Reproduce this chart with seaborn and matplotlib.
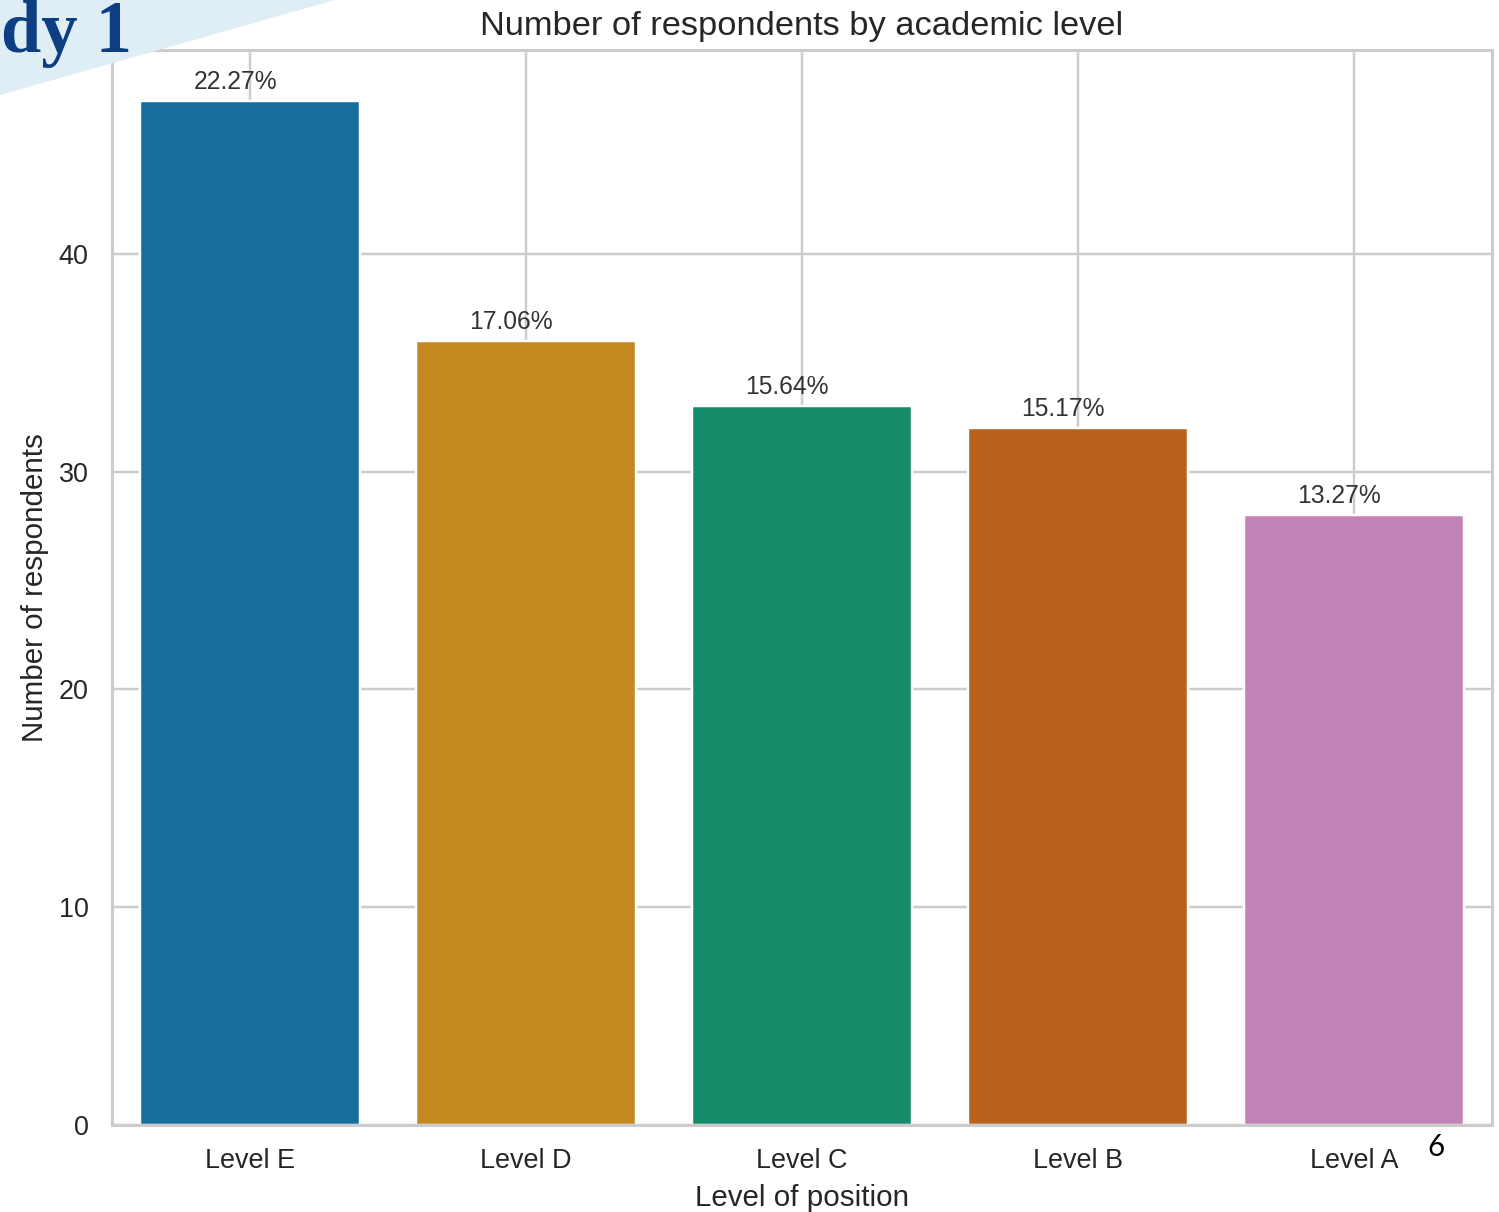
import matplotlib
matplotlib.use("Agg")
import matplotlib.pyplot as plt
from matplotlib.patches import Polygon
import seaborn as sns
import pandas as pd

# Respondent counts per academic level
levels = ["Level E", "Level D", "Level C", "Level B", "Level A"]
counts = [47, 36, 33, 32, 28]
# Share of all respondents, as printed above each bar
shares = ["22.27%", "17.06%", "15.64%", "15.17%", "13.27%"]

sns.set_theme(style="whitegrid", palette="colorblind")
plt.rcParams["font.family"] = ["Liberation Sans", "DejaVu Sans"]

DPI = 177
W, H = 1499, 1212
fig = plt.figure(figsize=(W / DPI, H / DPI), dpi=DPI)

# slide banner in the upper-left corner, behind the chart
banner = Polygon([[0, 1], [335 / W, 1], [0, 1 - 95 / H]], closed=True,
                 transform=fig.transFigure, facecolor="#dfeef4",
                 edgecolor="none", zorder=0)
fig.patches.append(banner)

ax = fig.add_axes([112 / W, 1 - 1125 / H, (1492 - 112) / W, (1125 - 50) / H])

df = pd.DataFrame({"level": levels, "count": counts})
sns.barplot(data=df, x="level", y="count", hue="level",
            palette="colorblind", legend=False, ax=ax)
ax.set_axisbelow(True)
ax.grid(True, axis="both")

for patch, label in zip(ax.patches, shares):
    ax.annotate(label,
                (patch.get_x() + patch.get_width() / 2, patch.get_height()),
                xytext=(-6, 5), textcoords="offset points",
                ha="center", va="baseline", fontsize=10, color=".2")

ax.set_title("Number of respondents by academic level", fontsize=14)
ax.set_xlabel("Level of position")
ax.set_ylabel("Number of respondents")
ax.set_yticks([0, 10, 20, 30, 40])

fig.text(1 / W, 1 - 52 / H, "dy 1", family="Liberation Serif",
         fontweight="bold", fontsize=29.5, color="#0e3e82",
         ha="left", va="baseline", zorder=5)
fig.text(1436 / W, 1 - 1147 / H, "6", family="Lato", fontsize=12,
         color="black", ha="center", va="center", zorder=5)

fig.savefig("out.png", dpi=DPI)
